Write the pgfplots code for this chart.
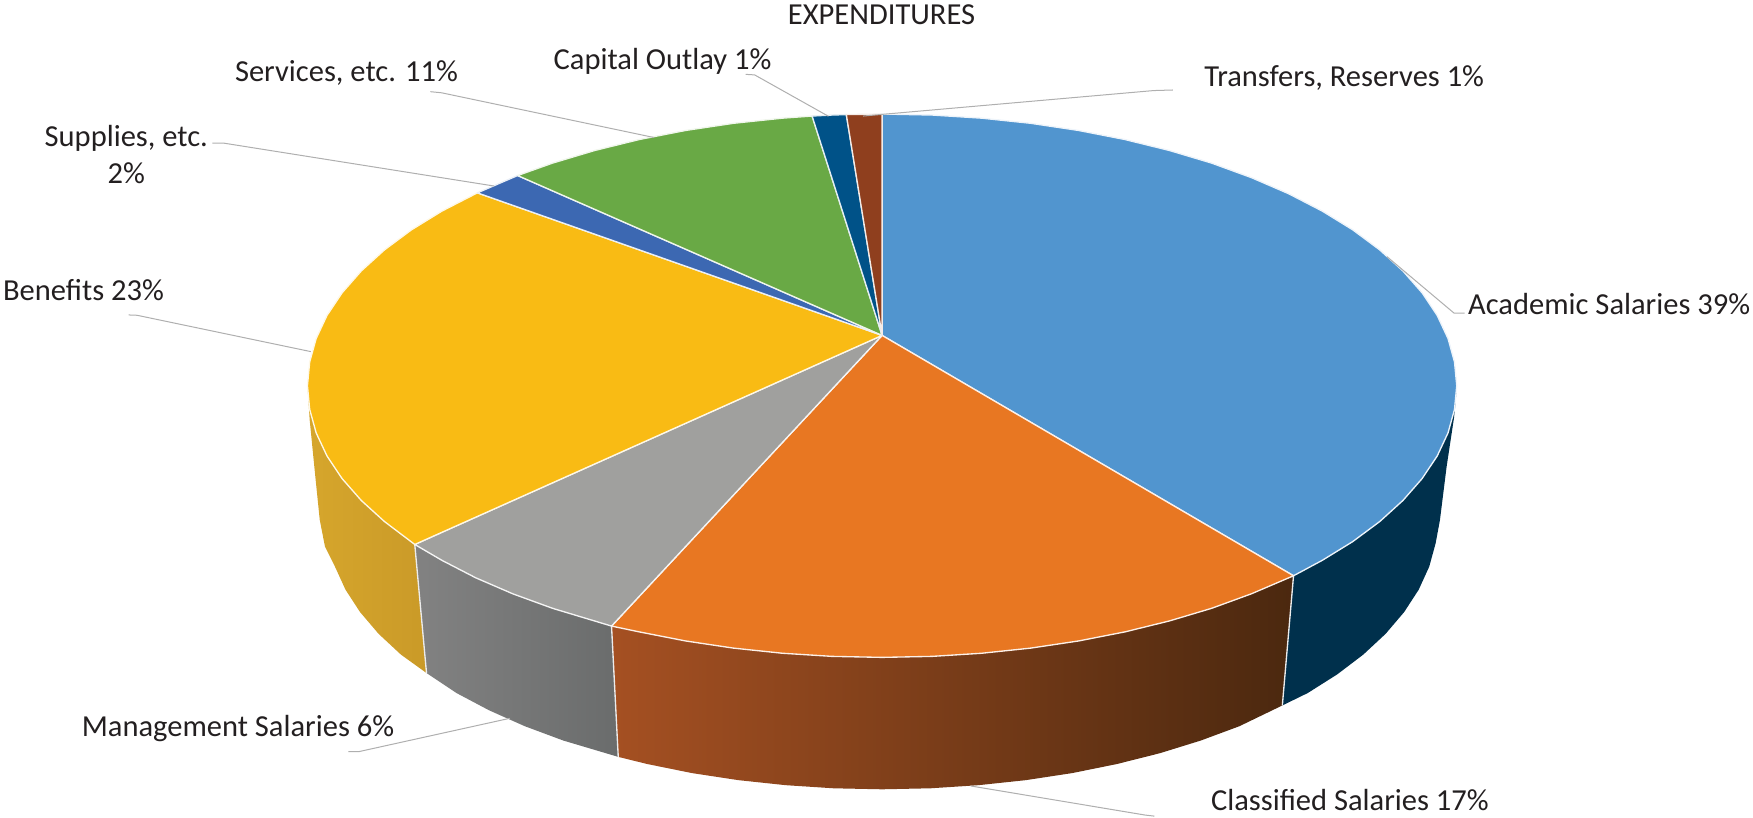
\documentclass[border=0pt]{standalone}
\usepackage{pgfplots}
\pgfplotsset{compat=1.18}
\usepackage{fontspec}
\setmainfont{Carlito}
\definecolor{cblue}{RGB}{81,149,207}
\definecolor{corange}{RGB}{232,119,34}
\definecolor{cgray}{RGB}{160,160,158}
\definecolor{cyellow}{RGB}{249,187,20}
\definecolor{cblueb}{RGB}{60,104,178}
\definecolor{cgreen}{RGB}{105,169,69}
\definecolor{cnavy}{RGB}{0,82,136}
\definecolor{cbrown}{RGB}{143,63,30}
\definecolor{sblue}{RGB}{0,48,76}
\definecolor{so1}{RGB}{165,80,34}
\definecolor{so2}{RGB}{86,46,18}
\definecolor{so3}{RGB}{75,40,15}
\definecolor{sg1}{RGB}{130,130,130}
\definecolor{sg2}{RGB}{106,108,108}
\definecolor{sy1}{RGB}{214,166,44}
\definecolor{sy2}{RGB}{202,154,40}
\definecolor{txt}{RGB}{35,31,32}
\definecolor{lead}{RGB}{175,175,175}
\tikzset{lab/.style={font=\fontsize{27.3}{33}\selectfont,text=txt,inner sep=0pt}}
\begin{document}
\begin{tikzpicture}
\path[use as bounding box] (0,0) rectangle (1568pt,730.8pt);
\begin{axis}[
  at={(0,0)},anchor=south west,
  scale only axis,width=1568pt,height=730.8pt,
  xmin=0,xmax=1568,ymin=0,ymax=730.8,y dir=reverse,
  hide axis,clip=false,
  every axis plot/.append style={no markers,line join=round},
]
% sides
\addplot[draw=none,fill=sblue] coordinates {(1303,345)(1302,360)(1300.5,374)(1294,417)(1288,465)(1284.1,486)(1278.4,506.8)(1269,527.4)(1256,547.4)(1239.4,566.9)(1219.4,585.5)(1196.1,603.2)(1169.7,619.9)(1147,631)(1157,515)(1157,400)} -- cycle;
\addplot[draw=none,left color=so1,middle color=so2,right color=so3] coordinates {(547,560)(553,677)(579,683.4)(619,691.5)(660.4,697.8)(702.7,702.3)(745.7,705.1)(789,706)(832.3,705.1)(875.3,702.3)(917.6,697.8)(959,691.5)(999,683.4)(1037.5,673.7)(1074,662.4)(1108.5,649.6)(1147,631)(1157,515)(1157,500)(547,500)} -- cycle;
\addplot[draw=none,left color=sg1,right color=sg2] coordinates {(371,487)(381.5,602)(408.3,619.9)(437.6,635.4)(469.5,649.6)(503.9,662.4)(553,677)(547,560)(547,480)(371,480)} -- cycle;
\addplot[draw=none,left color=sy1,right color=sy2] coordinates {(275,345)(277,375.6)(281.7,423)(286,465)(290.7,489)(299.6,506.8)(309,527.4)(322,547.4)(338.6,566.9)(358.6,585.5)(381.5,602)(371,487)(371,345)} -- cycle;
% seams
\addplot[draw=white!85!gray,line width=1.2pt] coordinates {(1157,515)(1147,631)};
\addplot[draw=white!85!gray,line width=1.2pt] coordinates {(547,560)(553,677)};
\addplot[draw=white!85!gray,line width=1.2pt] coordinates {(371,487)(381.5,602)};
% top slices
\addplot[fill=cblue,draw=white!90!cblue,line width=1.2pt] coordinates {(789,300)(789,102)(833.8,102.9)(878.2,105.7)(922,110.3)(964.8,116.7)(1006.2,124.8)(1046,134.6)(1083.8,145.9)(1119.4,158.9)(1152.5,173.2)(1182.7,188.8)(1210,205.6)(1234.1,223.5)(1254.8,242.3)(1272,261.9)(1285.5,282.1)(1295.2,302.8)(1301,323.8)(1303,345)(1301,366.2)(1295.2,387.2)(1285.5,407.9)(1272,428.1)(1254.8,447.7)(1234.1,466.5)(1210,484.4)(1182.7,501.2)(1157,515)} -- cycle;
\addplot[fill=corange,draw=white!90!corange,line width=1.2pt] coordinates {(789,300)(1157,515)(1119.4,531.1)(1083.8,544.1)(1046,555.4)(1006.2,565.2)(964.8,573.3)(922,579.7)(878.2,584.3)(833.8,587.1)(789,588)(744.2,587.1)(699.8,584.3)(656,579.7)(613.2,573.3)(571.8,565.2)(547,560)} -- cycle;
\addplot[fill=cgray,draw=white!90!cgray,line width=1.2pt] coordinates {(789,300)(547,560)(494.2,544.1)(458.6,531.1)(425.5,516.8)(395.3,501.2)(371,487)} -- cycle;
\addplot[fill=cyellow,draw=white!90!cyellow,line width=1.2pt] coordinates {(789,300)(371,487)(343.9,466.5)(323.2,447.7)(306,428.1)(292.5,407.9)(282.8,387.2)(277,366.2)(275,345)(277,323.8)(282.8,302.8)(292.5,282.1)(306,261.9)(323.2,242.3)(343.9,223.5)(368,205.6)(395.3,188.8)(427,172.5)} -- cycle;
\addplot[fill=cblueb,draw=white!90!cblueb,line width=1.2pt] coordinates {(789,300)(427,172.5)(458.6,158.9)(463,157)} -- cycle;
\addplot[fill=cgreen,draw=white!90!cgreen,line width=1.2pt] coordinates {(789,300)(463,157)(494.2,145.9)(532,134.6)(571.8,124.8)(613.2,116.7)(656,110.3)(699.8,105.7)(726.4,103.8)} -- cycle;
\addplot[fill=cnavy,draw=white!90!cnavy,line width=1.2pt] coordinates {(789,300)(726.4,103.8)(744.2,102.9)(757,102.5)} -- cycle;
\addplot[fill=cbrown,draw=white!90!cbrown,line width=1.2pt] coordinates {(789,300)(757,102.5)(789,102)} -- cycle;
% leaders
\addplot[draw=lead,line width=0.9pt] coordinates {(1240.6,229.6)(1300.5,280)(1310,280)};
\addplot[draw=lead,line width=0.9pt] coordinates {(1049,80.5)(1032,81)(772,103.8)};
\addplot[draw=lead,line width=0.9pt] coordinates {(667,66.5)(675,67)(741,104)};
\addplot[draw=lead,line width=0.9pt] coordinates {(385,82)(395,83)(585,123)};
\addplot[draw=lead,line width=0.9pt] coordinates {(190,128)(200,128)(442,166.4)};
\addplot[draw=lead,line width=0.9pt] coordinates {(115,281.7)(122.6,282)(278,314.5)};
\addplot[draw=lead,line width=0.9pt] coordinates {(311.6,672.3)(321,672.3)(456,642.5)};
\addplot[draw=lead,line width=0.9pt] coordinates {(1032.6,730)(1024,729)(868.3,703)};
% labels
\node[lab,anchor=west] at (axis cs:1313,272) {Academic Salaries 39\%};
\node[lab,anchor=west] at (axis cs:1077,70) {Transfers, Reserves 1\%};
\node[lab,anchor=west] at (axis cs:495,55) {Capital Outlay 1\%};
\node[lab,anchor=west] at (axis cs:210,65) {Services, etc. 11\%};
\node[lab,align=center] at (axis cs:113,138) {Supplies, etc.\\2\%};
\node[lab,anchor=west] at (axis cs:2.6,259.4) {Benefits 23\%};
\node[lab,anchor=west] at (axis cs:73,652) {Management Salaries 6\%};
\node[lab,anchor=west] at (axis cs:1083,716) {Classified Salaries 17\%};
\node[lab,anchor=center] at (axis cs:788.5,13) {EXPENDITURES};
\end{axis}
\end{tikzpicture}
\end{document}
